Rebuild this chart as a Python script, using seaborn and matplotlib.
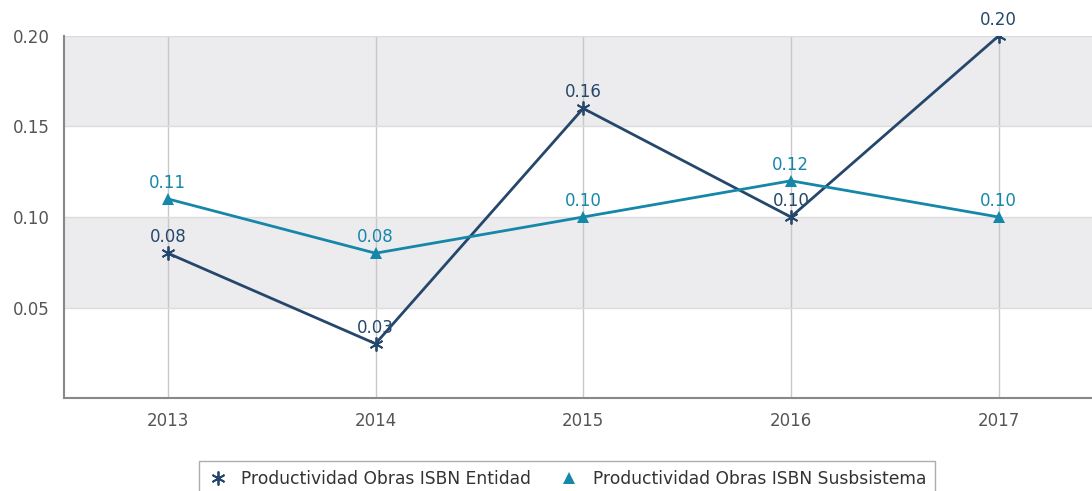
import numpy as np
import pandas as pd
import seaborn as sns
import matplotlib.pyplot as plt

years = [2013, 2014, 2015, 2016, 2017]
entidad = [0.08, 0.03, 0.16, 0.10, 0.20]
subsistema = [0.11, 0.08, 0.10, 0.12, 0.10]
yticks = [0.05, 0.10, 0.15, 0.20]
name_ent = "Productividad Obras ISBN Entidad"
name_sub = "Productividad Obras ISBN Susbsistema"

c_ent = "#24476b"
c_sub = "#1587a8"

sns.set_style("white")
plt.rcParams["font.family"] = ["DejaVu Sans"]

fig = plt.figure(figsize=(10.92, 4.91), dpi=100)
ax = fig.add_axes([0.0586, 0.1894, 0.9414, 0.7373])

# alternating background bands
for lo in [0.05, 0.15]:
    ax.axhspan(lo, lo + 0.05, color="#ececef", zorder=0, lw=0)

sns.lineplot(x=years, y=entidad, color=c_ent, marker=(6, 2, 0), markersize=10,
             markeredgewidth=1.3, markeredgecolor=c_ent, linewidth=2,
             label=name_ent, ax=ax, zorder=3)
sns.lineplot(x=years, y=subsistema, color=c_sub, marker="^", markersize=9,
             markeredgewidth=0, linewidth=2, label=name_sub, ax=ax, zorder=3)

for x, v in zip(years, entidad):
    ax.annotate(f"{v:.2f}", (x, v), xytext=(0, 5), textcoords="offset points",
                ha="center", va="bottom", color=c_ent, fontsize=12, zorder=5)
for x, v in zip(years, subsistema):
    ax.annotate(f"{v:.2f}", (x, v), xytext=(0, 5), textcoords="offset points",
                ha="center", va="bottom", color=c_sub, fontsize=12, zorder=5)

ax.set_xlim(2012.5, 2017.45)
ax.set_ylim(0, 0.2)
ax.set_xticks(years)
ax.set_yticks(yticks)
ax.set_yticklabels([f"{t:.2f}" for t in yticks])
ax.tick_params(axis="both", labelsize=12, labelcolor="#555555", length=0, pad=10)
ax.grid(axis="x", color="#c8c8c8", lw=1, zorder=1)
ax.grid(axis="y", color="#dcdcdc", lw=1, zorder=1)
ax.set_axisbelow(True)
ax.set_xlabel("")
ax.set_ylabel("")
for s in ["top", "right"]:
    ax.spines[s].set_visible(False)
for s in ["left", "bottom"]:
    ax.spines[s].set_color("#888888")
    ax.spines[s].set_linewidth(1.5)

handles, labels = ax.get_legend_handles_labels()
ax.get_legend().remove()
leg = fig.legend(handles, labels, loc="upper center", bbox_to_anchor=(0.519, 0.061),
                 ncol=2, fontsize=12.3, frameon=True, fancybox=False,
                 edgecolor="#999999", handlelength=1.2, columnspacing=1.6,
                 borderpad=0.5, borderaxespad=0)
for t in leg.get_texts():
    t.set_color("#333333")
for h in leg.legend_handles:
    h.set_linestyle("none")

fig.savefig("out.png", dpi=100)
